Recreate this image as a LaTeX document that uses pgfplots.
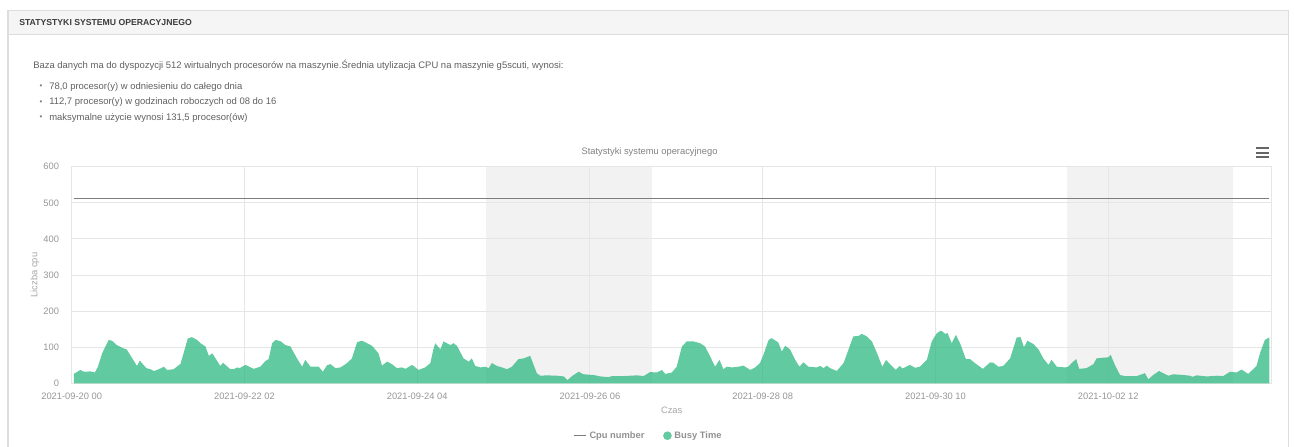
\documentclass[border=0pt]{standalone}
\usepackage{fontspec}
\setmainfont{Liberation Sans}
\usepackage{pgfplots}
\pgfplotsset{compat=1.18}
\definecolor{busy}{RGB}{44,184,128}
\definecolor{gridc}{RGB}{230,230,230}
\definecolor{bandc}{RGB}{242,242,242}
\definecolor{cpuline}{RGB}{125,125,125}
\definecolor{tickc}{RGB}{150,150,150}
\definecolor{labc}{RGB}{165,165,165}
\definecolor{txt}{RGB}{96,96,96}
\definecolor{hdr}{RGB}{245,245,245}
\definecolor{hdrtxt}{RGB}{60,60,60}
\definecolor{bordc}{RGB}{221,221,221}
\definecolor{titc}{RGB}{128,128,128}
\definecolor{legc}{RGB}{145,145,145}
\begin{document}
\begin{tikzpicture}
\begin{scope}[x=0.75pt,y=-0.75pt,shift={(0pt,334.5pt)}]
  \fill[hdr] (7.5,11) rectangle (1288,35);
  \draw[bordc, line width=0.75pt] (1288,450) -- (1288,11) -- (7.5,11);
  \draw[bordc, line width=1.5pt] (7.5,450) -- (7.5,10.5);
  \draw[bordc, line width=0.75pt] (7.5,35) -- (1288,35);
  \node[anchor=west, font=\fontsize{6.5}{7}\selectfont\bfseries, text=hdrtxt, inner sep=0pt] at (19,22.5) {STATYSTYKI SYSTEMU OPERACYJNEGO};
  \node[anchor=west, font=\fontsize{7.1}{8}\selectfont, text=txt, inner sep=0pt] at (33,65) {Baza danych ma do dyspozycji 512 wirtualnych procesorów na maszynie.Średnia utylizacja CPU na maszynie g5scuti, wynosi:};
  \foreach \yy/\tt in {87/{78,0 procesor(y) w odniesieniu do całego dnia},102.5/{112,7 procesor(y) w godzinach roboczych od 08 do 16},118/{maksymalne użycie wynosi 131,5 procesor(ów)}}{
    \node[anchor=center, font=\fontsize{6}{6}\selectfont, text=txt!80, inner sep=0pt] at (41,\yy) {\textbullet};
    \node[anchor=west, font=\fontsize{7.1}{8}\selectfont, text=txt, inner sep=0pt] at (49,\yy) {\tt};
  }
  \node[anchor=center, font=\fontsize{7}{8}\selectfont, text=titc, inner sep=0pt] at (649.5,152) {Statystyki systemu operacyjnego};
  \foreach \yy in {148.3,152.7,157.1}{
    \draw[black!60, line width=1.5pt] (1256,\yy) -- (1268.7,\yy);
  }
\end{scope}
\begin{axis}[
  at={(53.775pt,47.025pt)}, anchor=south west,
  scale only axis, width=900pt, height=162.45pt,
  set layers,
  xmin=0, xmax=347.3, ymin=0, ymax=600,
  xtick={0,50,100,150,200,250,300},
  xticklabels={2021-09-20 00,2021-09-22 02,2021-09-24 04,2021-09-26 06,2021-09-28 08,2021-09-30 10,2021-10-02 12},
  ytick={0,100,200,300,400,500,600},
  grid=major, major grid style={gridc, line width=0.75pt},
  axis line style={gridc, line width=0.75pt},
  major tick length=0pt,
  tick label style={font=\fontsize{7}{8}\selectfont, text=tickc},
  /pgf/number format/assume math mode=true,
  x tick label style={yshift=-4pt},
  y tick label style={xshift=-6pt},
  xlabel={Czas}, ylabel={Liczba cpu},
  label style={font=\fontsize{7}{8}\selectfont, text=labc},
  x label style={at={(axis description cs:0.5,-0.1233)}, anchor=center},
  y label style={at={(axis description cs:-0.0306,0.5)}, anchor=center},
  legend columns=2,
  legend style={draw=none, fill=none, at={(axis description cs:0.4808,-0.2419)}, anchor=center,
    font=\fontsize{7}{8}\selectfont\bfseries, text=legc,
    /tikz/every even column/.append style={column sep=12pt}},
]
\addplot[draw=none, fill=bandc, on layer=axis background, forget plot] coordinates {(120,600) (168,600)} \closedcycle;
\addplot[draw=none, fill=bandc, on layer=axis background, forget plot] coordinates {(288,600) (336,600)} \closedcycle;
\addplot[cpuline, line width=0.9pt,
  legend image code/.code={\draw[cpuline, line width=0.75pt] (0pt,0pt) -- (9.5pt,0pt);}]
  coordinates {(0.6,512) (346.6,512)};
\addlegendentry{Cpu number}
\addplot[draw=none, fill=busy, fill opacity=0.75,
  legend image code/.code={\fill[busy] (2.6pt,0pt) circle (3.25pt);}]
  coordinates {
(0.6,26) (2.5,37) (3.5,32) (5.4,33) (6.7,30) (7.6,46) (8.8,83) (10.7,120) (11.7,118) (13.0,106) (14.9,97) (15.9,94) (17.8,65) (18.9,48) (19.7,63) (21.6,42) (22.8,39) (23.8,34) (25.2,39) (26.7,46) (27.6,37) (29.5,39) (31.5,54) (33.6,124) (34.8,128) (36.3,120) (37.3,111) (38.7,102) (39.7,76) (40.7,83) (43.0,48) (43.8,57) (45.9,39) (46.9,39) (47.9,44) (48.6,42) (50.3,51) (52.7,40) (54.6,46) (56.1,62) (57.0,67) (58.0,111) (59.0,120) (60.4,117) (61.8,106) (63.3,102) (65.2,69) (66.7,46) (67.6,65) (69.1,46) (71.5,46) (72.7,32) (73.9,50) (74.9,53) (76.3,42) (77.8,44) (79.7,56) (81.1,69) (82.6,114) (84.0,118) (85.5,111) (86.9,104) (88.8,83) (89.8,49) (91.3,60) (92.7,53) (94.1,42) (95.6,44) (96.6,40) (98.5,51) (100.4,37) (102.3,44) (103.8,56) (104.6,91)
(105.2,111) (106.7,94) (107.6,116) (109.6,106) (110.5,111) (111.5,104) (113.4,69) (114.9,60) (115.8,69) (116.8,48) (118.3,44) (119.7,46) (120.7,42) (121.6,56) (123.1,48) (124.5,44) (126.0,39) (127.4,46) (129.3,67) (130.8,69) (132.7,76) (134.6,28) (135.6,21) (137.5,22) (140.4,21) (142.4,19) (143.5,9) (144.8,20) (146.7,32) (148.1,25) (151.0,23) (153.0,19) (155.4,17) (156.3,20) (159.7,20) (163.6,22) (165.5,20) (167.4,31) (169.4,30) (170.8,37) (171.8,26) (173.7,30) (175.1,46) (176.6,102) (178.0,116) (180.0,116) (181.9,111) (183.3,102) (184.8,74) (186.2,46) (187.5,65) (188.6,39) (189.6,46) (191.1,44) (193.0,46) (194.4,49) (196.4,37) (197.8,44) (199.2,56) (200.2,79) (201.7,120) (202.6,125) (204.5,113) (205.5,88) (206.5,104) (207.9,94) (209.4,65) (210.6,46) (211.8,58) (213.2,46) (215.6,44) (216.6,48) (217.6,42) (218.5,49) (219.5,42) (221.4,34) (223.4,56) (226.2,130) (227.7,131) (228.7,137) (230.1,130) (231.6,116)
(233.0,85) (234.6,46) (235.7,65) (236.8,53) (238.5,37) (239.6,48) (240.5,41) (242.6,51) (244.1,43) (245.5,46) (247.5,65) (248.9,116) (250.4,139) (251.6,146) (252.8,137) (253.5,139) (254.7,111) (255.9,134) (257.1,111) (258.8,67) (260.0,67) (261.4,56) (263.7,40) (265.8,58) (266.7,57) (268.2,46) (269.6,48) (271.6,69) (273.5,127) (274.6,128) (275.6,100) (276.6,118) (278.3,109) (279.8,94) (281.2,69) (282.7,51) (283.6,65) (285.1,46) (287.5,44) (288.4,46) (289.4,56) (290.7,67) (291.6,40) (293.7,42) (295.7,53) (296.6,69) (298.6,71) (300.0,72) (300.7,79) (301.9,51) (303.4,23) (304.8,20) (308.2,20) (310.6,28) (311.6,11) (313.0,23) (314.7,34) (315.9,28) (317.4,21) (318.8,25) (321.7,23) (323.6,21) (324.4,18) (325.6,22) (328.5,19) (331.4,21) (333.3,20) (335.2,32) (337.1,30) (338.6,38) (340.5,26) (342.9,48) (343.9,83) (345.3,120) (346.6,127)
  } \closedcycle;
\addlegendentry{Busy Time}
\end{axis}
\pgfresetboundingbox
\path[use as bounding box] (0,0) rectangle (971.25pt,334.5pt);
\end{tikzpicture}
\end{document}
